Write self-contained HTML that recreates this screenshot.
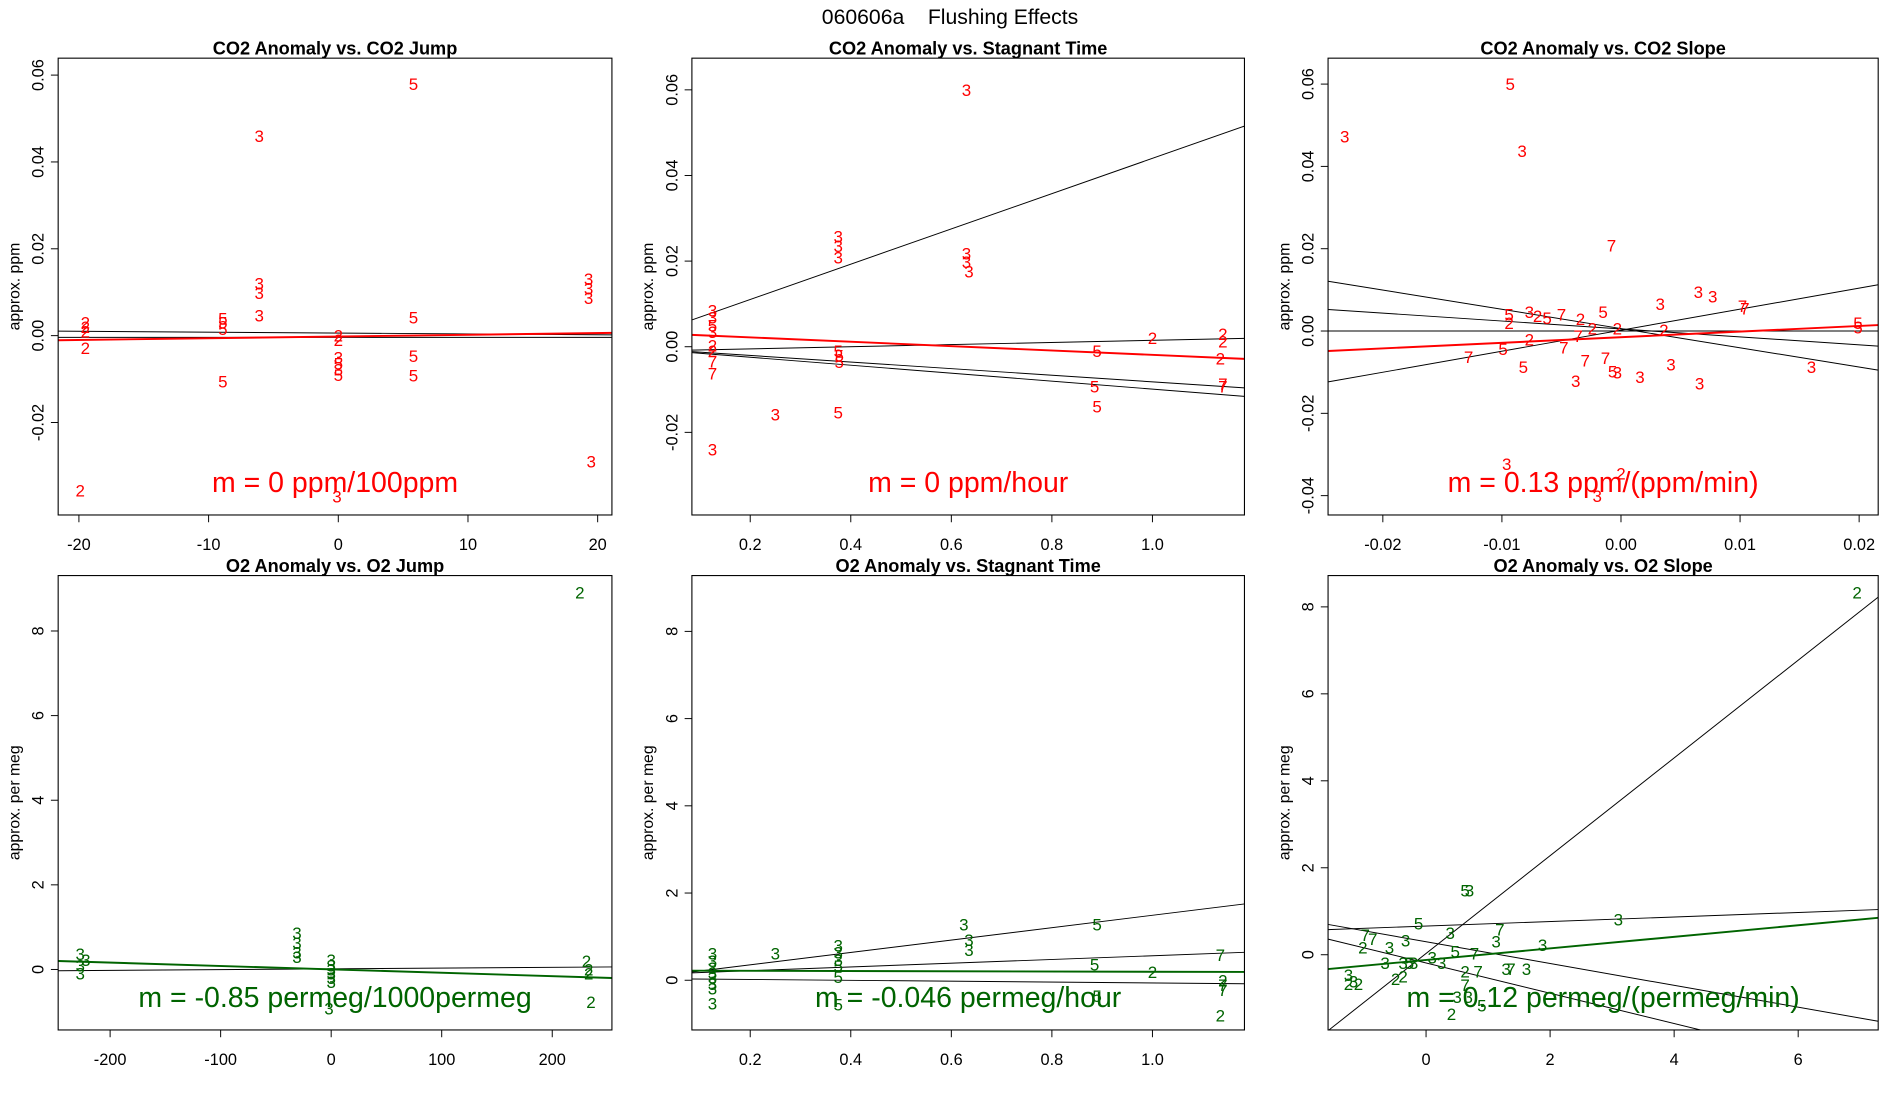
<!DOCTYPE html>
<html><head><meta charset="utf-8">
<style>
html,body{margin:0;padding:0;background:#fff;overflow:hidden;width:1900px;height:1100px;}
svg{display:block;font-family:"Liberation Sans",sans-serif;overflow:hidden;}
</style></head>
<body>
<svg id="chart" width="1900" height="1100" viewBox="0 0 1568 907.8" preserveAspectRatio="none" xmlns="http://www.w3.org/2000/svg">
<text x="784" y="20" text-anchor="middle" font-size="17.5" style="white-space:pre">060606a    Flushing Effects</text>
</svg>
<script>
// ---- Panel 1: CO2 Anomaly vs. CO2 Jump ----
const p1X = [5.8,-6.1,-6.1,-6.1,-6.1,-19.5,-19.5,-19.5,-19.5,-8.9,-8.9,-8.9,-8.9,0,0,0,0,0,0,-0.1,5.8,5.8,5.8,19.3,19.3,19.3,19.5,-19.9];
const p1Y = [0.058,0.046,0.012,0.0098,0.0047,0.003,0.002,0.001,-0.0028,0.004,0.003,0.0015,-0.0106,0,-0.001,-0.005,-0.0064,-0.0078,-0.009,-0.037,0.0042,-0.0047,-0.0092,0.0131,0.0109,0.0087,-0.029,-0.0357];
const p1Lab = ['5','3','3','3','3','2','2','2','2','5','5','5','5','2','2','3','5','3','5','3','5','5','5','3','3','3','3','2'];
const p1Slope = [-0.00002,0.0000,0.00004];
const p1Int = [0.0006,-0.0004,-0.0002];
const p1LineCol = ['black','black','red'];
// ---- Panel 2: CO2 Anomaly vs. Stagnant Time ----
const p2X = [0.63,0.375,0.375,0.375,0.63,0.63,0.635,0.125,0.125,0.125,0.125,0.125,0.125,0.125,0.125,0.125,0.25,0.375,0.377,0.377,0.375,0.89,0.885,0.89,1.0,1.14,1.14,1.135,1.14,1.14];
const p2Y = [0.060,0.0258,0.0235,0.0209,0.0218,0.0198,0.0176,0.0085,0.0068,0.005,0.0034,0.0003,-0.001,-0.0034,-0.0062,-0.024,-0.0158,-0.001,-0.002,-0.0035,-0.0153,-0.001,-0.0093,-0.014,0.002,0.003,0.0012,-0.0027,-0.0087,-0.0093];
const p2Lab = ['3','3','3','3','3','3','3','3','3','5','3','2','2','7','7','3','3','5','5','5','5','5','5','5','2','2','2','2','7','7'];
const p2Slope = [0.0412,0.0025,-0.0077,-0.0093,-0.0051];
const p2Int = [0.0028,-0.001,-0.0005,-0.0006,0.0032];
const p2LineCol = ['black','black','black','black','red'];
// ---- Panel 3: CO2 Anomaly vs. CO2 Slope ----
const p3X = [-0.0232,-0.0093,-0.0083,-0.0008,0.0033,0.0065,0.0077,0.0102,0.0104,0.0199,0.0199,-0.0094,-0.0094,-0.0077,-0.007,-0.0062,-0.005,-0.0034,-0.0015,-0.0024,-0.0003,0.0036,-0.0077,-0.0036,-0.0048,-0.0099,-0.0128,-0.0082,-0.003,-0.0013,-0.0038,-0.0007,-0.0003,0.0016,0.0042,0.0066,0.016,-0.0096,0,-0.002];
const p3Y = [0.0473,0.060,0.0438,0.0208,0.0066,0.0095,0.0084,0.0061,0.0055,0.002,0.0009,0.004,0.002,0.0046,0.0037,0.0032,0.004,0.0029,0.0046,0.0006,0.0006,0.0003,-0.002,-0.0012,-0.004,-0.0043,-0.0063,-0.0087,-0.0072,-0.0066,-0.0121,-0.0098,-0.0101,-0.0112,-0.0081,-0.0127,-0.0087,-0.0323,-0.0346,-0.0401];
const p3Lab = ['3','5','3','7','3','3','3','7','7','5','5','5','2','3','2','5','7','2','5','2','2','2','2','7','7','5','7','5','7','7','3','5','3','3','3','3','3','3','2','3'];
const p3Slope = [-0.4675,-0.1926,0.0,0.5108,0.1364];
const p3Int = [0.0006,0.0005,0.0,0.0002,-0.0015];
const p3LineCol = ['black','black','black','black','red'];
// ---- Panel 4: O2 Anomaly vs. O2 Jump ----
const p4X = [225,-227,-222,-227,-227,-31,-31,-31,-31,0,0,0,0,0,0,-2,231,233,233,235];
const p4Y = [8.91,0.37,0.23,0.09,-0.09,0.86,0.63,0.4,0.29,0.23,0.1,0,-0.1,-0.2,-0.29,-0.92,0.2,0,-0.09,-0.77];
const p4Lab = ['2','3','3','3','3','3','3','3','3','3','3','3','3','3','3','3','2','2','2','2'];
const p4Slope = [0.00018,-0.0008];
const p4Int = [0.014,0.002];
const p4LineCol = ['black','green'];
// ---- Panel 5: O2 Anomaly vs. Stagnant Time ----
const p5X = [0.125,0.125,0.125,0.125,0.125,0.125,0.125,0.125,0.25,0.375,0.375,0.375,0.375,0.375,0.375,0.625,0.635,0.635,0.89,0.885,0.89,1.0,1.135,1.14,1.14,1.14,1.135];
const p5Y = [0.61,0.44,0.28,0.17,0.06,-0.08,-0.19,-0.53,0.61,0.8,0.64,0.47,0.33,0.08,-0.56,1.28,0.92,0.69,1.28,0.36,-0.36,0.19,0.58,0,-0.11,-0.22,-0.81];
const p5Lab = ['3','3','3','3','3','3','3','3','3','3','3','3','5','5','5','3','3','3','5','5','5','2','7','2','7','7','2'];
const p5Slope = [1.42,0.428,-0.027,-0.1];
const p5Int = [0.07,0.134,0.222,0.038];
const p5LineCol = ['black','black','green','black'];
// ---- Panel 6: O2 Anomaly vs. O2 Slope ----
const p6X = [6.95,0.63,0.7,-0.12,0.39,1.19,1.13,3.1,1.88,-0.98,-0.86,-0.33,-0.59,-1.02,0.1,0.25,0.47,0.78,0.63,0.84,-0.66,-0.37,-0.2,-0.27,-0.49,-0.37,-1.25,-1.17,-1.25,-1.09,1.29,1.62,1.37,0.63,0.5,0.68,0.9,0.41];
const p6Y = [8.33,1.48,1.48,0.72,0.5,0.58,0.31,0.81,0.22,0.45,0.36,0.33,0.17,0.17,-0.06,-0.19,0.08,0.03,-0.39,-0.39,-0.19,-0.19,-0.19,-0.19,-0.56,-0.5,-0.47,-0.61,-0.67,-0.67,-0.33,-0.33,-0.33,-0.7,-0.97,-0.97,-1.17,-1.36];
const p6Lab = ['2','5','3','5','3','7','3','3','3','7','7','3','3','2','3','3','5','7','2','7','3','3','3','5','2','2','3','3','2','2','3','3','7','7','3','3','5','2'];
const p6Slope = [1.124,0.052,-0.348,-0.251,0.133];
const p6Int = [0.03,0.66,-0.19,0.30,-0.12];
const p6LineCol = ['black','black','black','black','green'];

const NS = 'http://www.w3.org/2000/svg';
const svg = document.getElementById('chart');
function mk(tag, attrs, parent){const e=document.createElementNS(NS,tag);for(const k in attrs)e.setAttribute(k,attrs[k]);(parent||svg).appendChild(e);return e;}

const panels = [
 {id:'co2-jump',title:'CO2 Anomaly vs. CO2 Jump',box:[48,48,505,425],xlim:[-21.6,21.1],ylim:[-0.0413,0.0639],xt:[-20,-10,0,10,20],xl:['-20','-10','0','10','20'],yt:[-0.02,0,0.02,0.04,0.06],yl:['-0.02','0.00','0.02','0.04','0.06'],ylab:'approx. ppm',col:'#ff0000',m:'m = 0 ppm/100ppm',X:p1X,Y:p1Y,L:p1Lab,S:p1Slope,I:p1Int,LC:p1LineCol},
 {id:'co2-stagnant',title:'CO2 Anomaly vs. Stagnant Time',box:[571,48,1027,425],xlim:[0.084,1.183],ylim:[-0.0393,0.0674],xt:[0.2,0.4,0.6,0.8,1.0],xl:['0.2','0.4','0.6','0.8','1.0'],yt:[-0.02,0,0.02,0.04,0.06],yl:['-0.02','0.00','0.02','0.04','0.06'],ylab:'approx. ppm',col:'#ff0000',m:'m = 0 ppm/hour',X:p2X,Y:p2Y,L:p2Lab,S:p2Slope,I:p2Int,LC:p2LineCol},
 {id:'co2-slope',title:'CO2 Anomaly vs. CO2 Slope',box:[1096,48,1550,425],xlim:[-0.0246,0.0216],ylim:[-0.0447,0.0663],xt:[-0.02,-0.01,0,0.01,0.02],xl:['-0.02','-0.01','0.00','0.01','0.02'],yt:[-0.04,-0.02,0,0.02,0.04,0.06],yl:['-0.04','-0.02','0.00','0.02','0.04','0.06'],ylab:'approx. ppm',col:'#ff0000',m:'m = 0.13 ppm/(ppm/min)',X:p3X,Y:p3Y,L:p3Lab,S:p3Slope,I:p3Int,LC:p3LineCol},
 {id:'o2-jump',title:'O2 Anomaly vs. O2 Jump',box:[48,475,505,850],xlim:[-247,254],ylim:[-1.43,9.31],xt:[-200,-100,0,100,200],xl:['-200','-100','0','100','200'],yt:[0,2,4,6,8],yl:['0','2','4','6','8'],ylab:'approx. per meg',col:'#006400',m:'m = -0.85 permeg/1000permeg',X:p4X,Y:p4Y,L:p4Lab,S:p4Slope,I:p4Int,LC:p4LineCol},
 {id:'o2-stagnant',title:'O2 Anomaly vs. Stagnant Time',box:[571,475,1027,850],xlim:[0.084,1.183],ylim:[-1.14,9.28],xt:[0.2,0.4,0.6,0.8,1.0],xl:['0.2','0.4','0.6','0.8','1.0'],yt:[0,2,4,6,8],yl:['0','2','4','6','8'],ylab:'approx. per meg',col:'#006400',m:'m = -0.046 permeg/hour',X:p5X,Y:p5Y,L:p5Lab,S:p5Slope,I:p5Int,LC:p5LineCol},
 {id:'o2-slope',title:'O2 Anomaly vs. O2 Slope',box:[1096,475,1550,850],xlim:[-1.58,7.29],ylim:[-1.73,8.72],xt:[0,2,4,6],xl:['0','2','4','6'],yt:[0,2,4,6,8],yl:['0','2','4','6','8'],ylab:'approx. per meg',col:'#006400',m:'m = 0.12 permeg/(permeg/min)',X:p6X,Y:p6Y,L:p6Lab,S:p6Slope,I:p6Int,LC:p6LineCol}
];

// clip a line y=i+s*x to the panel's data window; returns [xa,ya,xb,yb] or null
function clipLine(s,i,xl,yl){
  let a=xl[0],b=xl[1];
  if(s!==0){
    let xA=(yl[0]-i)/s, xB=(yl[1]-i)/s;
    const lo=Math.min(xA,xB), hi=Math.max(xA,xB);
    a=Math.max(a,lo); b=Math.min(b,hi);
  } else if(i<yl[0]||i>yl[1]) return null;
  if(a>=b) return null;
  return [a,i+s*a,b,i+s*b];
}

panels.forEach((p,pi)=>{
  const [x0,y0,x1,y1]=p.box;
  const sx=v=>x0+(v-p.xlim[0])/(p.xlim[1]-p.xlim[0])*(x1-x0);
  const sy=v=>y1-(v-p.ylim[0])/(p.ylim[1]-p.ylim[0])*(y1-y0);
  const g=mk('g',{});
  
  
  const cp=mk('clipPath',{id:'clip'+pi},g);
  mk('rect',{x:x0,y:y0,width:x1-x0,height:y1-y0},cp);
  const t=mk('text',{x:(x0+x1)/2,y:y0-3,'text-anchor':'middle','font-size':15,'font-weight':'bold'},g);
  
  
  t.textContent=p.title;
  p.xt.forEach((v,i)=>{
    const tk=mk('line',{x1:sx(v),x2:sx(v),y1:y1,y2:y1+6,stroke:'#000','stroke-width':0.8},g);
    
    
    const tl=mk('text',{x:sx(v),y:y1+29,'text-anchor':'middle','font-size':13.5},g);
    
    
    tl.textContent=p.xl[i];
  });
  p.yt.forEach((v,i)=>{
    const tk=mk('line',{x1:x0-6,x2:x0,y1:sy(v),y2:sy(v),stroke:'#000','stroke-width':0.8},g);
    
    
    const tl=mk('text',{x:0,y:0,'text-anchor':'middle','font-size':13.5,transform:'translate('+(x0-12)+','+sy(v)+') rotate(-90)'},g);
    
    
    tl.textContent=p.yl[i];
  });
  const yl=mk('text',{x:0,y:0,'text-anchor':'middle','font-size':13,transform:'translate('+(x0-32)+','+((y0+y1)/2)+') rotate(-90)'},g);
  
  
  yl.textContent=p.ylab;
  const lg=mk('g',{'clip-path':'url(#clip'+pi+')'},g);
  p.S.forEach((s,i)=>{
    const c=clipLine(s,p.I[i],p.xlim,p.ylim);
    if(!c) return;
    const ln=mk('line',{x1:sx(c[0]),y1:sy(c[1]),x2:sx(c[2]),y2:sy(c[3]),stroke:p.LC[i]==='black'?'#000':p.col,'stroke-width':p.LC[i]==='black'?0.8:1.6},lg);
    
    
  });
  p.X.forEach((v,i)=>{
    const pt=mk('text',{x:sx(v),y:sy(p.Y[i])+5,'text-anchor':'middle','font-size':14,fill:p.col},g);
    
    
    pt.textContent=p.L[i];
  });
  const m=mk('text',{x:(x0+x1)/2,y:y1-19,'text-anchor':'middle','font-size':23.5,fill:p.col},g);
  
  
  m.textContent=p.m;
  const bx=mk('rect',{x:x0,y:y0,width:x1-x0,height:y1-y0,fill:'none',stroke:'#000','stroke-width':0.9},g);
  
  
});
</script>
</body></html>
